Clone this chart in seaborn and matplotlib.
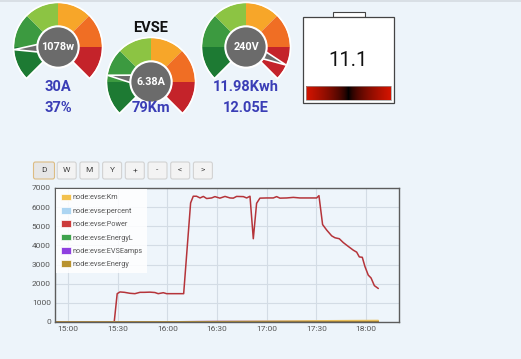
import numpy as np
import pandas as pd
import matplotlib
matplotlib.use("Agg")
import matplotlib.pyplot as plt
import matplotlib.dates as mdates
from matplotlib.patches import Wedge, Circle, Polygon, Rectangle, FancyBboxPatch, Patch
import seaborn as sns

# ---- data ----

# gauges
gauge_values = [1078, 6.38, 240]
gauge_max = [7000, 32, 260]
gauge_labels = ["1078w", "6.38A", "240V"]
gauge_colors = ["#1d7a33", "#3c9a40", "#8cc443", "#f7a629", "#f06e24", "#c4232a"]
top_texts = ["30A", None, "11.98Kwh"]
bottom_texts = ["37%", "79Km", "12.05E"]
battery_text = "11.1"

buttons = ["D", "W", "M", "Y", "+", "-", "<", ">"]

# time series, minutes after 15:00
power_min = [-8, 27.8, 29.6, 31.3, 34, 37.3, 40.3, 43.4, 46, 49.4, 52.4, 54.4, 57.5, 59.5,
             63.5, 69.8, 74.0, 75.6, 77.6, 79.7, 81.7, 83.7, 86.7, 88.7, 91.7, 94.8, 97.8,
             99.8, 101.8, 105.9, 107.9, 109.9, 111.9, 113.9, 115.9, 120, 124, 126, 128,
             132.1, 136.1, 140.1, 146.2, 150.2, 151.6, 153.8, 156.3, 159.3, 161.3, 163.9,
             166.3, 169.3, 172.4, 174.4, 176, 177.8, 179.4, 181.4, 183.1, 185.1, 187.5]
power_w = [0, 0, 1480, 1570, 1550, 1500, 1480, 1550, 1550, 1560, 1540, 1480, 1530, 1480,
           1480, 1480, 6220, 6570, 6570, 6480, 6560, 6450, 6480, 6550, 6470, 6560, 6480,
           6470, 6560, 6550, 6480, 6570, 4350, 6200, 6470, 6480, 6480, 6550, 6470,
           6480, 6510, 6480, 6480, 6480, 6600, 5090, 4800, 4500, 4400, 4350,
           4150, 3950, 3750, 3650, 3400, 3380, 2900, 2450, 2300, 1900, 1750]

small_min = [-8, 28, 60, 90, 120, 150, 170, 187.5]
km_val = [0, 0, 8, 25, 42, 60, 72, 79]
percent_val = [0, 0, 4, 12, 20, 28, 33, 37]
energyl_val = [0, 0, 1, 3.5, 6.5, 9.5, 11, 11.98]
evseamps_val = [0, 0, 6.4, 28, 28, 28, 14, 6.38]
energy_val = [0, 0, 1.1, 3.6, 6.6, 9.6, 11.1, 12.05]

legend_names = ["node:evse:Km", "node:evse:percent", "node:evse:Power",
                "node:evse:EnergyL", "node:evse:EVSEamps", "node:evse:Energy"]
legend_colors = ["#f2c14e", "#acd5f2", "#cc3b3b", "#3fa34d", "#8e3fe0", "#b8922e"]

# ---- build long table ----
base = pd.Timestamp("2024-01-01 15:00")
series = [
    ("node:evse:Power", power_min, power_w),
    ("node:evse:percent", small_min, percent_val),
    ("node:evse:EnergyL", small_min, energyl_val),
    ("node:evse:EVSEamps", small_min, evseamps_val),
    ("node:evse:Km", small_min, km_val),
    ("node:evse:Energy", small_min, energy_val),
]
frames = []
for name, mins, vals in series:
    frames.append(pd.DataFrame({
        "time": base + pd.to_timedelta(mins, unit="m"),
        "value": vals,
        "series": name,
    }))
df = pd.concat(frames, ignore_index=True)

line_palette = {
    "node:evse:Power": "#b5343a",
    "node:evse:percent": "#acd5f2",
    "node:evse:EnergyL": "#3fa34d",
    "node:evse:EVSEamps": "#8e3fe0",
    "node:evse:Km": "#e8bf5c",
    "node:evse:Energy": "#a88433",
}

# ---- figure ----
sns.set_theme(style="whitegrid")
plt.rcParams["font.family"] = ["Roboto", "DejaVu Sans"]

W, H = 521, 359
bg = "#edf4fa"
fig = plt.figure(figsize=(W / 100, H / 100), dpi=100, facecolor=bg)

# overlay in pixel units for the dashboard widgets
ov = fig.add_axes([0, 0, 1, 1])
ov.set_xlim(0, W)
ov.set_ylim(0, H)
ov.axis("off")
ov.add_patch(Rectangle((0, H - 2), W, 2, facecolor="#d9dfe5", edgecolor="none"))


def Y(y):
    return H - y


def gauge(cx, cy, r, value, vmax, label):
    yc = Y(cy)
    for i, col in enumerate(gauge_colors):
        ov.add_patch(Wedge((cx, yc), r, 225 - 45 * (i + 1), 225 - 45 * i,
                           facecolor=col, edgecolor="none"))
    ov.add_patch(Wedge((cx, yc), r + 0.6, -45, 225, facecolor="none",
                       edgecolor="white", lw=1.2))
    ang = np.deg2rad(225 - 270 * value / vmax)
    tip = (cx + r * np.cos(ang), yc + r * np.sin(ang))
    px, py = -np.sin(ang) * 7, np.cos(ang) * 7
    ov.add_patch(Polygon([(cx + px, yc + py), tip, (cx - px, yc - py)],
                         closed=True, facecolor="#6b6b6b", edgecolor="white", lw=1.2))
    ov.add_patch(Circle((cx, yc), r * 0.47, facecolor="#6b6b6b",
                        edgecolor="white", lw=1.5))
    ov.text(cx, yc, label, color="white", fontsize=7.8, fontweight="bold",
            ha="center", va="center")


centers = [(58, 47), (151, 82), (246, 47)]
for (cx, cy), v, vm, lab in zip(centers, gauge_values, gauge_max, gauge_labels):
    gauge(cx, cy, 44, v, vm, lab)

blue = "#3a3db6"
for (cx, cy), t1, t2 in zip(centers, top_texts, bottom_texts):
    if t1:
        ov.text(cx, Y(87), t1, color=blue, fontsize=10.5, fontweight="bold",
                ha="center", va="center")
    ov.text(cx, Y(108), t2, color=blue, fontsize=10.5, fontweight="bold",
            ha="center", va="center")
ov.text(151, Y(28), "EVSE", color="#111111", fontsize=10.5, fontweight="bold",
        ha="center", va="center")

# battery
ov.add_patch(Rectangle((333, Y(17)), 32, 5, facecolor="white", edgecolor="#444444", lw=0.8))
ov.add_patch(Rectangle((303, Y(103)), 91, 86, facecolor="white", edgecolor="#444444", lw=0.9))
grad = (np.abs(np.linspace(-1, 1, 200)) ** 0.6)[None, :]
cmap = matplotlib.colors.LinearSegmentedColormap.from_list("bat", ["#000000", "#d41400"])
ov.imshow(grad, cmap=cmap, extent=(306, 391, Y(100), Y(86)), aspect="auto", zorder=3)
ov.add_patch(Rectangle((306, Y(100)), 85, 14, facecolor="none", edgecolor="#9a9a9a", lw=0.5, zorder=4))
ov.text(348.5, Y(60), battery_text, color="#111111", fontsize=14.5,
        ha="center", va="center")
ov.set_xlim(0, W)
ov.set_ylim(0, H)

# range buttons
for i, b in enumerate(buttons):
    bx = 44 + 22.7 * i
    sel = b == "D"
    w = 21 if sel else 19
    ov.add_patch(FancyBboxPatch((bx - w / 2, Y(179)), w, 17,
                                boxstyle="round,pad=0,rounding_size=2",
                                facecolor="#e6e6e6" if sel else "#f3f3f3",
                                edgecolor="#dcbc83" if sel else "#d2d2d2", lw=0.8))
    ov.text(bx, Y(170.5), b, fontsize=6, color="#444444", ha="center", va="center")

# ---- time series chart ----
ax = fig.add_axes([55 / W, 1 - 322 / H, (399 - 55) / W, (322 - 188) / H])
ax.set_facecolor("#eef5fb")
sns.lineplot(data=df, x="time", y="value", hue="series", palette=line_palette,
             hue_order=[s[0] for s in series], estimator=None, linewidth=1.1,
             legend=False, ax=ax)

ax.set_xlim(base - pd.Timedelta(minutes=8), base + pd.Timedelta(minutes=200))
ax.set_ylim(0, 7000)
ax.set_yticks(range(0, 7001, 1000))
ax.xaxis.set_major_locator(mdates.MinuteLocator(byminute=[0, 30]))
ax.xaxis.set_major_formatter(mdates.DateFormatter("%H:%M"))
ax.set_xlabel("")
ax.set_ylabel("")
ax.grid(True, color="#d3dce5", lw=0.8)
ax.tick_params(axis="both", labelsize=6, colors="#555555", length=0, pad=3)
for sp in ax.spines.values():
    sp.set_visible(True)
    sp.set_color("#5c5c5c")
    sp.set_linewidth(1.0)

handles = [Patch(facecolor=c, edgecolor="white", lw=0.5) for c in legend_colors]
leg = ax.legend(handles, legend_names, loc="upper left", bbox_to_anchor=(0, 1),
                prop={"size": 5.2}, frameon=True, fancybox=False, borderaxespad=0.2,
                handlelength=1.4, handleheight=1.0, handletextpad=0.2,
                labelspacing=0.78, borderpad=0.6)
leg.get_frame().set_facecolor("white")
leg.get_frame().set_alpha(0.85)
leg.get_frame().set_edgecolor("none")
for t in leg.get_texts():
    t.set_color("#555555")

fig.savefig("out.png", dpi=100, facecolor=bg)
